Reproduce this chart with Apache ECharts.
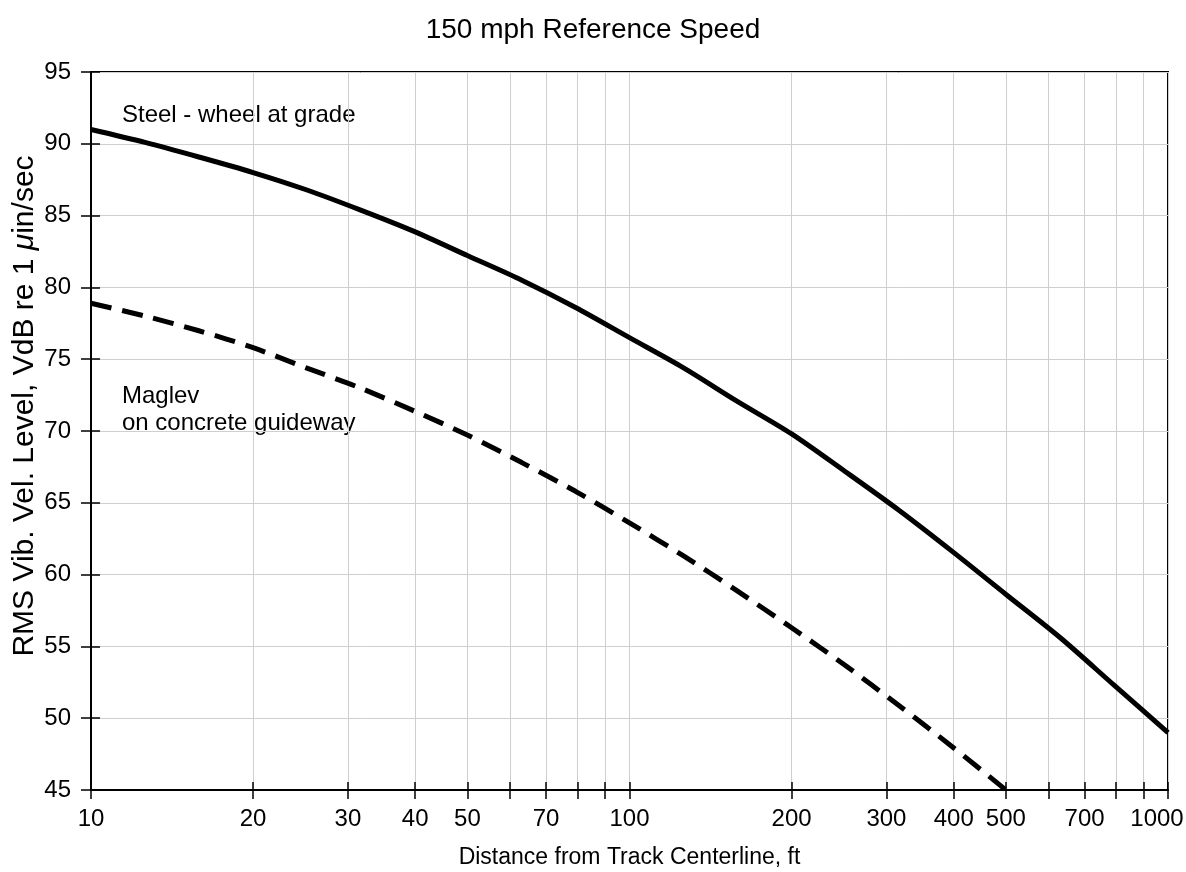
<!DOCTYPE html>
<html>
<head>
<meta charset="utf-8">
<title>150 mph Reference Speed</title>
<script src="https://cdn.jsdelivr.net/npm/echarts@6/dist/echarts.min.js"></script>
<style>
  html, body { margin: 0; padding: 0; background: #fff; overflow: hidden; }
  #chart { width: 1186px; height: 872px; }
</style>
</head>
<body>
<div id="chart"></div>
<script>
// distance from track centerline (ft) and vibration level (VdB)
var steelDist = [10, 12.6, 15.8, 20, 25.1, 31.6, 39.8, 50.1, 63.1, 79.4, 100, 126, 158, 200, 251, 316, 398, 501, 631, 794, 1000];
var steelVdB = [91.0, 90.1, 89.1, 88.0, 86.8, 85.4, 83.9, 82.2, 80.5, 78.6, 76.5, 74.4, 72.1, 69.8, 67.2, 64.5, 61.6, 58.6, 55.6, 52.3, 49.0];

var maglevDist = [10, 12.6, 15.8, 20, 25.1, 31.6, 39.8, 50.1, 63.1, 79.4, 100, 126, 158, 200, 251, 316, 398, 500];
var maglevVdB = [78.9, 78.0, 77.0, 75.8, 74.4, 73.0, 71.4, 69.7, 67.8, 65.8, 63.6, 61.3, 58.9, 56.3, 53.7, 50.9, 48.0, 45.0];

// axis ticks
var xTicks = [10, 20, 30, 40, 50, 60, 70, 80, 90, 100, 200, 300, 400, 500, 600, 700, 800, 900, 1000];
var xLabels = [10, 20, 30, 40, 50, 70, 100, 200, 300, 400, 500, 700, 1000];

var FONT = "'Liberation Sans', Arial, Helvetica, sans-serif";

function pairs(xs, ys) {
  return xs.map(function (x, i) { return [x, ys[i]]; });
}

var chart = echarts.init(document.getElementById('chart'));

var option = {
  animation: false,
  backgroundColor: '#fff',
  textStyle: { fontFamily: FONT },
  title: {
    text: '150 mph Reference Speed',
    left: 'center',
    top: 11,
    textStyle: { fontSize: 28, fontWeight: 'normal', color: '#000', fontFamily: FONT }
  },
  grid: {
    left: 91, right: 18, top: 72, bottom: 82,
    show: true,
    borderColor: '#000',
    borderWidth: 2,
    containLabel: false,
    outerBoundsMode: 'none'
  },
  xAxis: [
    {
      type: 'log', logBase: 10, min: 10, max: 1000,
      name: 'Distance from Track Centerline, ft',
      nameLocation: 'middle',
      nameGap: 56,
      nameMoveOverlap: false,
      nameTextStyle: { fontSize: 23, color: '#000', fontFamily: FONT },
      axisLine: { lineStyle: { color: '#000', width: 2 } },
      axisTick: { customValues: xTicks, length: 9, lineStyle: { color: '#000', width: 1.5 } },
      axisLabel: {
        customValues: xLabels, fontSize: 24, color: '#000', margin: 17, fontFamily: FONT,
        formatter: function (v) {
          var s = String(Math.round(v));
          return v >= 1000 ? '{last|' + s + '}' : s;
        },
        rich: { last: { fontSize: 24, color: '#000', fontFamily: FONT, padding: [0, 22, 0, 0] } }
      },
      splitLine: { show: true, lineStyle: { color: '#cfcfcf', width: 1 } },
      minorTick: { show: false }
    },
    {
      type: 'log', logBase: 10, min: 10, max: 1000,
      position: 'bottom',
      axisLine: { show: false },
      axisTick: { customValues: xTicks, inside: true, length: 8, lineStyle: { color: '#000', width: 1.5 } },
      axisLabel: { show: false },
      splitLine: { show: false }
    }
  ],
  yAxis: [
    {
      type: 'value', min: 45, max: 95, interval: 5,
      axisLine: { show: true, lineStyle: { color: '#000', width: 2 } },
      axisTick: { show: true, length: 10, lineStyle: { color: '#000', width: 1.5 } },
      axisLabel: { fontSize: 24, color: '#000', margin: 20, fontFamily: FONT },
      splitLine: { show: true, lineStyle: { color: '#cfcfcf', width: 1 } }
    },
    {
      type: 'value', min: 45, max: 95, interval: 5,
      position: 'left',
      axisLine: { show: false },
      axisTick: { show: true, inside: true, length: 9, lineStyle: { color: '#000', width: 1.5 } },
      axisLabel: { show: false },
      splitLine: { show: false }
    }
  ],
  series: [
    {
      name: 'Steel - wheel at grade',
      type: 'line',
      data: pairs(steelDist, steelVdB),
      smooth: 0.3,
      showSymbol: false,
      lineStyle: { color: '#000', width: 5, type: 'solid' },
      z: 5
    },
    {
      name: 'Maglev on concrete guideway',
      type: 'line',
      data: pairs(maglevDist, maglevVdB),
      smooth: 0.3,
      showSymbol: false,
      lineStyle: { color: '#000', width: 5, type: [21, 11] },
      z: 5
    }
  ],
  graphic: [
    {
      type: 'text', x: 25, y: 406, rotation: Math.PI / 2,
      style: {
        text: 'RMS Vib. Vel. Level, VdB re 1 {i|μ}in/sec',
        align: 'center', verticalAlign: 'middle',
        fontSize: 30, fill: '#000', fontFamily: FONT,
        rich: { i: { fontStyle: 'italic', fontSize: 30, fontFamily: FONT } }
      }
    },
    {
      type: 'text', x: 122, y: 115,
      style: { text: 'Steel - wheel at grade', verticalAlign: 'middle', fontSize: 24, fill: '#000', fontFamily: FONT }
    },
    {
      type: 'text', x: 122, y: 396,
      style: { text: 'Maglev', verticalAlign: 'middle', fontSize: 24, fill: '#000', fontFamily: FONT }
    },
    {
      type: 'text', x: 122, y: 423,
      style: { text: 'on concrete guideway', verticalAlign: 'middle', fontSize: 24, fill: '#000', fontFamily: FONT }
    }
  ]
};

chart.setOption(option);
</script>
</body>
</html>
